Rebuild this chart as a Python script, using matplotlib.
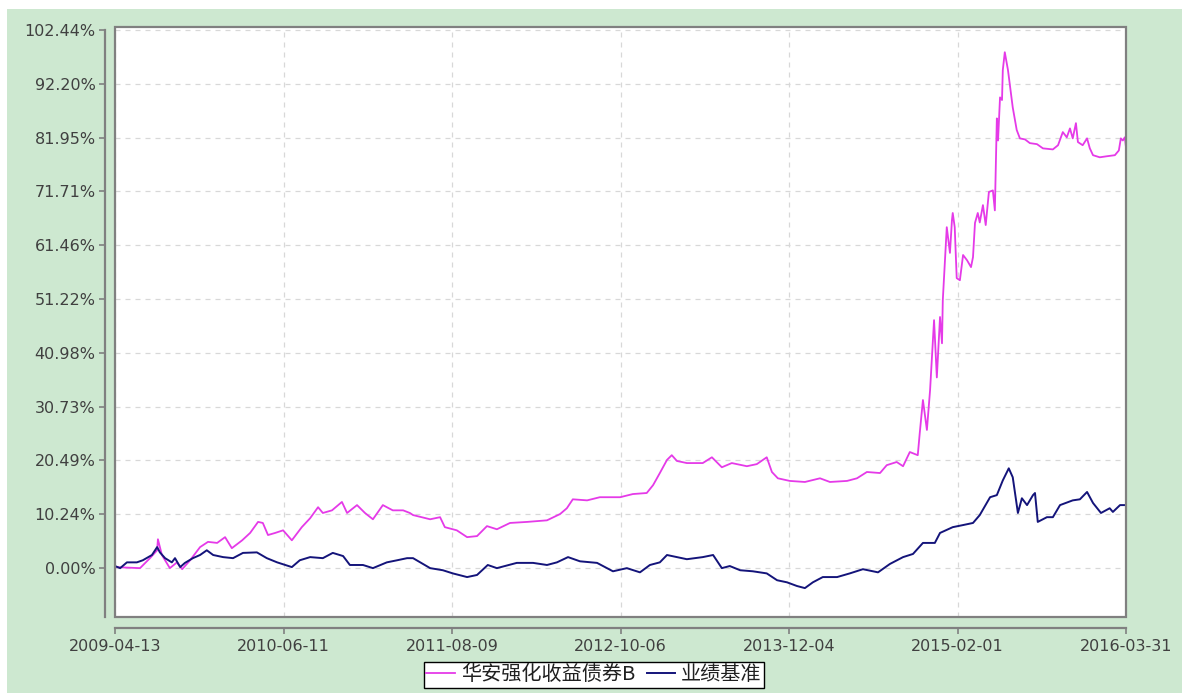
#!/usr/bin/env python3
"""
Cumulative return: 华安强化收益债券B vs 业绩基准, 2009-04-13 .. 2016-03-31.
"""

import numpy as np
import pandas as pd
import matplotlib
matplotlib.use("Agg")
import matplotlib.pyplot as plt
from matplotlib.patches import Rectangle

plt.rcParams["font.family"] = ["DejaVu Sans", "Noto Sans CJK SC"]

# ---------- Data ----------
START_DATE = "2009-04-13"
END_DATE = "2016-03-31"

# fund: days since START_DATE, cumulative return in %
FUND_DAYS = [0, 63, 88, 106, 108, 118, 138, 156, 169, 189, 214, 234, 257, 277, 294,
             320, 340, 360, 372, 385, 403, 423, 445, 470, 491, 511, 523, 546, 571,
             584, 609, 629, 649, 674, 699, 725, 742, 750, 793, 818, 830, 860, 886,
             911, 936, 961, 994, 1037, 1087, 1120, 1137, 1152, 1188, 1220, 1271,
             1303, 1338, 1354, 1371, 1389, 1401, 1414, 1439, 1479, 1502, 1527, 1552,
             1590, 1615, 1640, 1653, 1668, 1698, 1736, 1774, 1799, 1842, 1867, 1892,
             1925, 1942, 1967, 1983, 2000, 2020, 2025, 2033, 2043, 2051, 2058, 2061,
             2068, 2076, 2081, 2083, 2093, 2101, 2106, 2108, 2113, 2118, 2126, 2134,
             2144, 2154, 2159, 2164, 2171, 2176, 2184, 2191, 2199, 2209, 2214, 2219,
             2222, 2227, 2232, 2234, 2239, 2247, 2252, 2259, 2269, 2277, 2290, 2302,
             2320, 2335, 2360, 2373, 2385, 2395, 2403, 2410, 2418, 2423, 2435, 2446,
             2453, 2461, 2478, 2496, 2516, 2526, 2531, 2536, 2541, 2544]
FUND_PCT = [0.2, 0.0, 1.9, 3.4, 5.5, 2.5, 0.0, 1.1, -0.2, 1.5, 4.0, 5.0, 4.8, 5.9, 3.8,
            5.3, 6.7, 8.8, 8.6, 6.3, 6.7, 7.2, 5.3, 7.8, 9.5, 11.6, 10.5, 11.0, 12.6,
            10.5, 12.0, 10.5, 9.3, 12.0, 11.0, 11.0, 10.5, 10.1, 9.3, 9.7, 7.8, 7.2, 5.9,
            6.1, 8.0, 7.4, 8.6, 8.8, 9.1, 10.3, 11.4, 13.1, 12.9, 13.5, 13.5,
            14.1, 14.3, 15.8, 18.1, 20.6, 21.5, 20.4, 20.0, 20.0, 21.1, 19.2, 20.0,
            19.4, 19.8, 21.1, 18.3, 17.1, 16.6, 16.4, 17.1, 16.4, 16.6, 17.1, 18.3,
            18.1, 19.6, 20.2, 19.4, 22.1, 21.5, 25.7, 32.0, 26.3, 33.9, 43.4, 47.2,
            36.3, 47.8, 42.8, 51.0, 64.9, 60.0, 66.2, 67.6, 64.9, 55.2, 54.8, 59.6,
            58.6, 57.3, 59.2, 65.7, 67.6, 65.8, 69.1, 65.3, 71.6, 71.9, 68.1, 85.6,
            81.4, 89.6, 89.1, 94.8, 98.2, 94.8, 91.9, 87.7, 83.4, 81.8, 81.6, 80.9,
            80.7, 79.9, 79.7, 80.5, 83.0, 82.0, 83.7, 81.8, 84.7, 81.1, 80.5, 81.8,
            79.9, 78.6, 78.2, 78.4, 78.6, 79.5, 81.8, 81.4, 82.0, 80.1]

# benchmark
BENCH_DAYS = [0, 13, 30, 55, 70, 93, 106, 113, 126, 143, 151, 164, 176, 196, 214,
              231, 247, 272, 297, 322, 357, 382, 408, 445, 465, 491, 523, 548, 574,
              591, 624, 649, 684, 710, 735, 750, 793, 825, 850, 886, 911, 938, 961,
              1011, 1052, 1087, 1112, 1140, 1170, 1213, 1253, 1288, 1321, 1346, 1371,
              1389, 1414, 1439, 1479, 1505, 1527, 1547, 1573, 1605, 1640, 1666, 1691,
              1716, 1736, 1756, 1781, 1817, 1849, 1882, 1920, 1950, 1983, 2008, 2033,
              2063, 2076, 2108, 2134, 2159, 2176, 2202, 2219, 2234, 2249, 2259, 2272,
              2282, 2295, 2310, 2315, 2322, 2345, 2360, 2378, 2410, 2428, 2446, 2461,
              2481, 2503, 2511, 2529, 2541, 2544]
BENCH_PCT = [0.4, 0.0, 1.1, 1.1, 1.5, 2.5, 4.0, 3.0, 1.9, 1.1, 1.9, 0.2, 1.0, 1.9, 2.5,
             3.4, 2.5, 2.1, 1.9, 2.9, 3.0, 1.9, 1.1, 0.2, 1.5, 2.1, 1.9, 2.9, 2.3,
             0.6, 0.6, 0.0, 1.1, 1.5, 1.9, 1.9, 0.0, -0.4, -1.0, -1.7, -1.3, 0.6, 0.0,
             1.0, 1.0, 0.6, 1.1, 2.1, 1.3, 1.0, -0.6, 0.0, -0.8, 0.6, 1.1,
             2.5, 2.1, 1.7, 2.1, 2.5, 0.0, 0.4, -0.4, -0.6, -1.0, -2.3, -2.7,
             -3.4, -3.8, -2.7, -1.7, -1.7, -1.0, -0.2, -0.8, 0.8, 2.1, 2.7, 4.8,
             4.8, 6.7, 7.8, 8.2, 8.6, 10.1, 13.5, 13.9, 16.7, 19.0, 17.3, 10.5,
             13.3, 12.0, 13.9, 14.3, 8.8, 9.7, 9.7, 12.0, 12.9, 13.1, 14.5, 12.4,
             10.5, 11.4, 10.7, 12.0, 12.0, 12.0]

X_TICKS = ["2009-04-13", "2010-06-11", "2011-08-09", "2012-10-06",
           "2013-12-04", "2015-02-01", "2016-03-31"]
Y_TICKS = [0.00, 10.24, 20.49, 30.73, 40.98, 51.22, 61.46, 71.71, 81.95, 92.20, 102.44]
Y_LABELS = [f"{v:.2f}%" for v in Y_TICKS]

SERIES_NAMES = ["华安强化收益债券B", "业绩基准"]

# ---------- Styling ----------
W, H = 1182, 693
BG_GREEN = "#cde8d0"
FUND_COLOR = "#e53ae8"
BENCH_COLOR = "#14147a"
AXIS_GRAY = "#808080"
TEXT_COLOR = "#404040"

start = pd.Timestamp(START_DATE)
fund_dates = start + pd.to_timedelta(FUND_DAYS, unit="D")
bench_dates = start + pd.to_timedelta(BENCH_DAYS, unit="D")

fig = plt.figure(figsize=(W / 100, H / 100), dpi=100, facecolor="white")
fig.patches.append(Rectangle((7 / W, 0), 1 - 7 / W, 1 - 9 / H, transform=fig.transFigure,
                             facecolor=BG_GREEN, edgecolor="none", zorder=-10))

left, right, top, bottom = 115, 1126, 27, 617
ax = fig.add_axes([left / W, 1 - bottom / H, (right - left) / W, (bottom - top) / H])
ax.set_facecolor("white")

ax.plot(fund_dates, FUND_PCT, color=FUND_COLOR, lw=1.3, label=SERIES_NAMES[0], zorder=3)
ax.plot(bench_dates, BENCH_PCT, color=BENCH_COLOR, lw=1.4, label=SERIES_NAMES[1], zorder=4)

ax.set_xlim(pd.Timestamp(START_DATE), pd.Timestamp(END_DATE))
ax.set_ylim(-9.3, 103.0)

ax.set_xticks(pd.to_datetime(X_TICKS))
ax.set_xticklabels(X_TICKS)
ax.set_yticks(Y_TICKS)
ax.set_yticklabels(Y_LABELS)

ax.grid(True, color="#d8d8d8", linestyle=(0, (4, 4)), lw=0.9)
ax.set_axisbelow(True)

# frame around plot area + offset axis lines
for s in ["top", "right"]:
    ax.spines[s].set_visible(False)
ax.add_patch(Rectangle((0, 0), 1, 1, transform=ax.transAxes, fill=False,
                       edgecolor=AXIS_GRAY, lw=1.6, clip_on=False, zorder=5))
ax.spines["left"].set_position(("outward", 7))
ax.spines["bottom"].set_position(("outward", 8))
ax.spines["left"].set_bounds(-9.3, Y_TICKS[-1])
for s in ["left", "bottom"]:
    ax.spines[s].set_color(AXIS_GRAY)
    ax.spines[s].set_linewidth(1.6)
ax.tick_params(axis="both", colors=AXIS_GRAY, length=4, width=1.2,
               labelcolor=TEXT_COLOR, labelsize=11.5)
ax.tick_params(axis="x", pad=4)
ax.tick_params(axis="y", pad=3)

leg = fig.legend(loc="upper center", bbox_to_anchor=(594 / W, 1 - 662 / H),
                 ncol=2, frameon=True, fancybox=False, framealpha=1.0,
                 handlelength=1.4, handletextpad=0.3, columnspacing=0.6,
                 borderpad=0.12, borderaxespad=0.0,
                 prop={"family": ["Noto Sans CJK SC", "DejaVu Sans"], "size": 14.5})
leg.get_frame().set_edgecolor("black")
leg.get_frame().set_facecolor("white")
leg.get_frame().set_linewidth(1.0)
for t in leg.get_texts():
    t.set_color("#202020")

fig.savefig("out.png", dpi=100, facecolor=fig.get_facecolor())
